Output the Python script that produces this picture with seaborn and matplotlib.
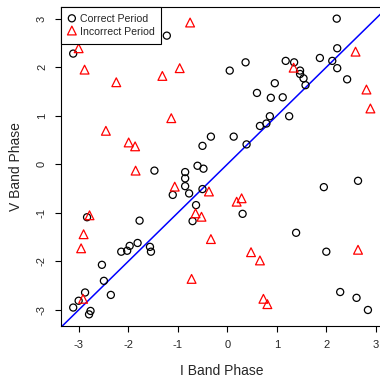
import numpy as np
import pandas as pd
import matplotlib
matplotlib.use("Agg")
import matplotlib.pyplot as plt
import seaborn as sns

# phases
correct_i = [-1.22, -3.11, 2.21, 2.22, 0.05, 0.37, 1.18, 1.35, 1.87, 2.12,
             2.22, 1.47, 1.47, 1.54, 1.58, 2.42, 0.96, 0.60, 0.88, 1.12,
             0.86, 1.25, 0.79, 0.66, 0.13, 0.39, 1.95, 2.64, 0.31, -0.33,
             -0.50, -1.47, -0.85, -0.85, -0.60, -0.48, -0.85, -0.77, -0.50, -1.10,
             -0.63, -2.83, -1.77, -0.70, -1.81, -1.97, -2.02, -2.14, -1.56, -1.54,
             -2.53, -2.49, -2.35, -2.87, -3.00, -3.11, -2.76, -2.79, 1.39, 2.00,
             2.28, 2.61, 2.84]
correct_v = [2.65, 2.28, 3.00, 2.39, 1.93, 2.10, 2.13, 2.10, 2.19, 2.13,
             1.98, 1.93, 1.86, 1.77, 1.63, 1.75, 1.67, 1.47, 1.37, 1.38,
             0.99, 0.99, 0.84, 0.79, 0.57, 0.41, -0.47, -0.34, -1.02, 0.57,
             0.38, -0.13, -0.16, -0.29, -0.03, -0.09, -0.45, -0.60, -0.51, -0.63,
             -0.84, -1.09, -1.16, -1.17, -1.62, -1.68, -1.78, -1.80, -1.70, -1.80,
             -2.07, -2.40, -2.69, -2.64, -2.81, -2.95, -3.02, -3.09, -1.41, -1.80,
             -2.63, -2.75, -3.00]

incorrect_i = [-3.00, -0.75, -2.88, -2.24, -1.31, -0.96, 2.59, 1.34, 2.81, 2.89,
               0.19, 0.29, -1.13, -2.45, -1.99, -1.86, -1.85, -1.06, -0.37, -0.64,
               -0.52, -2.78, -0.33, -2.90, -2.95, -0.72, -2.91, 2.64, 0.48, 0.66,
               0.73, 0.81]
incorrect_v = [2.39, 2.92, 1.95, 1.69, 1.82, 1.98, 2.32, 1.99, 1.54, 1.15,
               -0.77, -0.70, 0.95, 0.69, 0.45, 0.37, -0.13, -0.46, -0.56, -1.01,
               -1.08, -1.05, -1.54, -1.44, -1.73, -2.36, -2.77, -1.76, -1.81, -1.98,
               -2.77, -2.88]

ticks = [-3, -2, -1, 0, 1, 2, 3]

df_ok = pd.DataFrame({"I": correct_i, "V": correct_v})
df_bad = pd.DataFrame({"I": incorrect_i, "V": incorrect_v})

sns.set_style("ticks")
plt.rcParams['font.family'] = ['Liberation Sans', 'DejaVu Sans']
plt.rcParams['axes.unicode_minus'] = False

fig = plt.figure(figsize=(3.8, 3.77), dpi=100)
ax = fig.add_axes([61.3/380, 51/377, 320.5/380, 319.5/377])

sns.scatterplot(data=df_ok, x="I", y="V", marker="o", s=26, facecolor="none",
                edgecolor="black", linewidth=0.9, color="black", ax=ax,
                label="Correct Period", zorder=3)
sns.scatterplot(data=df_bad, x="I", y="V", marker="^", s=40, facecolor="none",
                edgecolor="red", linewidth=0.9, color="red", ax=ax,
                label="Incorrect Period", zorder=3)
ax.axline((0, 0), slope=1, color="blue", lw=1.1, zorder=2)

ax.set_xlim(-3.35, 3.12)
ax.set_ylim(-3.33, 3.25)
ax.set_xticks(ticks)
ax.set_yticks(ticks)
ax.tick_params(axis="both", direction="out", length=4.3, width=0.8,
               labelsize=8, color="black", pad=6)
plt.setp(ax.get_yticklabels(), rotation=90, va="center")
for s in ax.spines.values():
    s.set_color("black")
    s.set_linewidth(0.8)

ax.set_xlabel("I Band Phase", fontsize=10)
ax.set_ylabel("V Band Phase", fontsize=10)
ax.xaxis.set_label_coords(0.5, -0.12)
ax.yaxis.set_label_coords(-0.119, 0.5)

leg = ax.legend(loc="upper left", fontsize=7.6, frameon=True, fancybox=False,
                borderaxespad=0, handletextpad=0.4, borderpad=0.65,
                labelspacing=0.1, handlelength=0.7, handleheight=1.25)
leg.get_frame().set_edgecolor("black")
leg.get_frame().set_linewidth(0.8)
leg.get_frame().set_alpha(1)

fig.savefig("out.png", dpi=100)
